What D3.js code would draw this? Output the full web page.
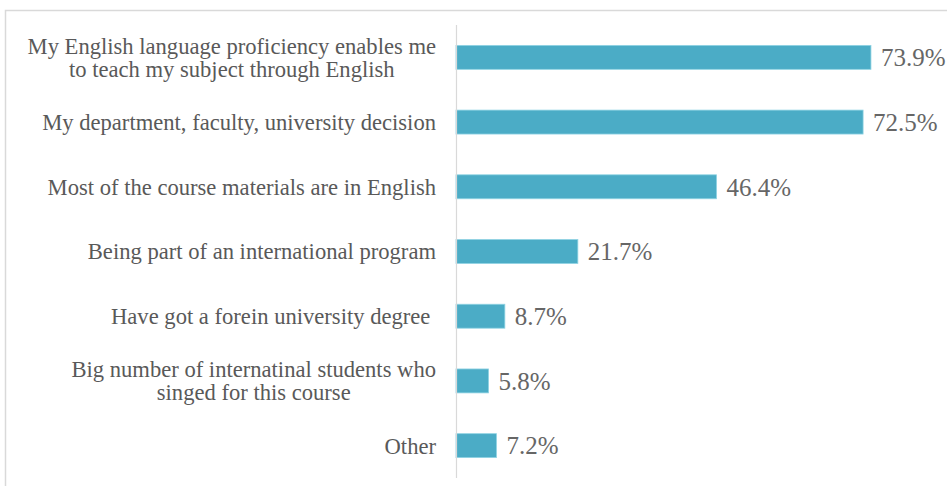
<!DOCTYPE html>
<html>
<head>
<meta charset="utf-8">
<script src="https://cdn.jsdelivr.net/npm/d3@7"></script>
<style>
  body { margin: 0; background: #fff; }
  svg { display: block; }
  text { font-family: "Liberation Serif", "Times New Roman", Times, serif; white-space: pre; }
</style>
</head>
<body>
<svg id="canvas"></svg>
<script>
  const width = 947;
  const height = 486;

  // data
  const categories = [
    ["My English language proficiency enables me", "to teach my subject through English"],
    ["My department, faculty, university decision"],
    ["Most of the course materials are in English"],
    ["Being part of an international program"],
    ["Have got a forein university degree "],
    ["Big number of internatinal students who", "singed for this course"],
    ["Other"]
  ];
  const values = [73.9, 72.5, 46.4, 21.7, 8.7, 5.8, 7.2];

  const axisX = 456;
  const plotTop = 25;
  const plotBottom = 478;

  const svg = d3.select("#canvas")
    .attr("width", width)
    .attr("height", height);

  // chart frame
  svg.append("rect")
    .attr("x", 5.5)
    .attr("y", 10.5)
    .attr("width", 960)
    .attr("height", 500)
    .attr("fill", "none")
    .attr("stroke", "#d9d9d9")
    .attr("stroke-width", 1.5);

  const x = d3.scaleLinear()
    .domain([0, 100])
    .range([axisX, axisX + 561.5]);

  const y = d3.scaleBand()
    .domain(d3.range(values.length))
    .range([plotTop, plotBottom])
    .paddingInner(0.63)
    .paddingOuter(0.315);

  // bars
  svg.selectAll(".bar")
    .data(values)
    .enter()
    .append("rect")
    .attr("class", "bar")
    .attr("x", x(0))
    .attr("y", (d, i) => y(i))
    .attr("width", d => x(d) - x(0))
    .attr("height", y.bandwidth())
    .attr("fill", "#4bacc6")
    .attr("stroke", "#8fd3e3")
    .attr("stroke-width", 0.8);

  // vertical axis line
  svg.append("line")
    .attr("x1", axisX + 0.5)
    .attr("x2", axisX + 0.5)
    .attr("y1", plotTop)
    .attr("y2", plotBottom)
    .attr("stroke", "#d9d9d9")
    .attr("stroke-width", 1.2);

  // value labels
  svg.selectAll(".value")
    .data(values)
    .enter()
    .append("text")
    .attr("class", "value")
    .attr("x", d => x(d) + 10)
    .attr("y", (d, i) => y(i) + y.bandwidth() / 2)
    .attr("dy", "0.35em")
    .attr("font-size", "25px")
    .attr("fill", "#666666")
    .text(d => d.toFixed(1) + "%");

  // category labels: block right-aligned, lines centred within it
  const labelRight = 436;
  const lineHeight = 23;
  categories.forEach((lines, i) => {
    const cy = y(i) + y.bandwidth() / 2;
    const t = svg.append("text")
      .attr("font-size", "22.6px")
      .attr("fill", "#595959")
      .attr("text-anchor", "middle");
    const spans = lines.map((line, j) => t.append("tspan")
      .attr("y", cy + (j - (lines.length - 1) / 2) * lineHeight)
      .attr("dy", "0.35em")
      .text(line));
    const maxW = d3.max(spans, s => s.node().getComputedTextLength());
    spans.forEach(s => s.attr("x", labelRight - maxW / 2));
  });
</script>
</body>
</html>
